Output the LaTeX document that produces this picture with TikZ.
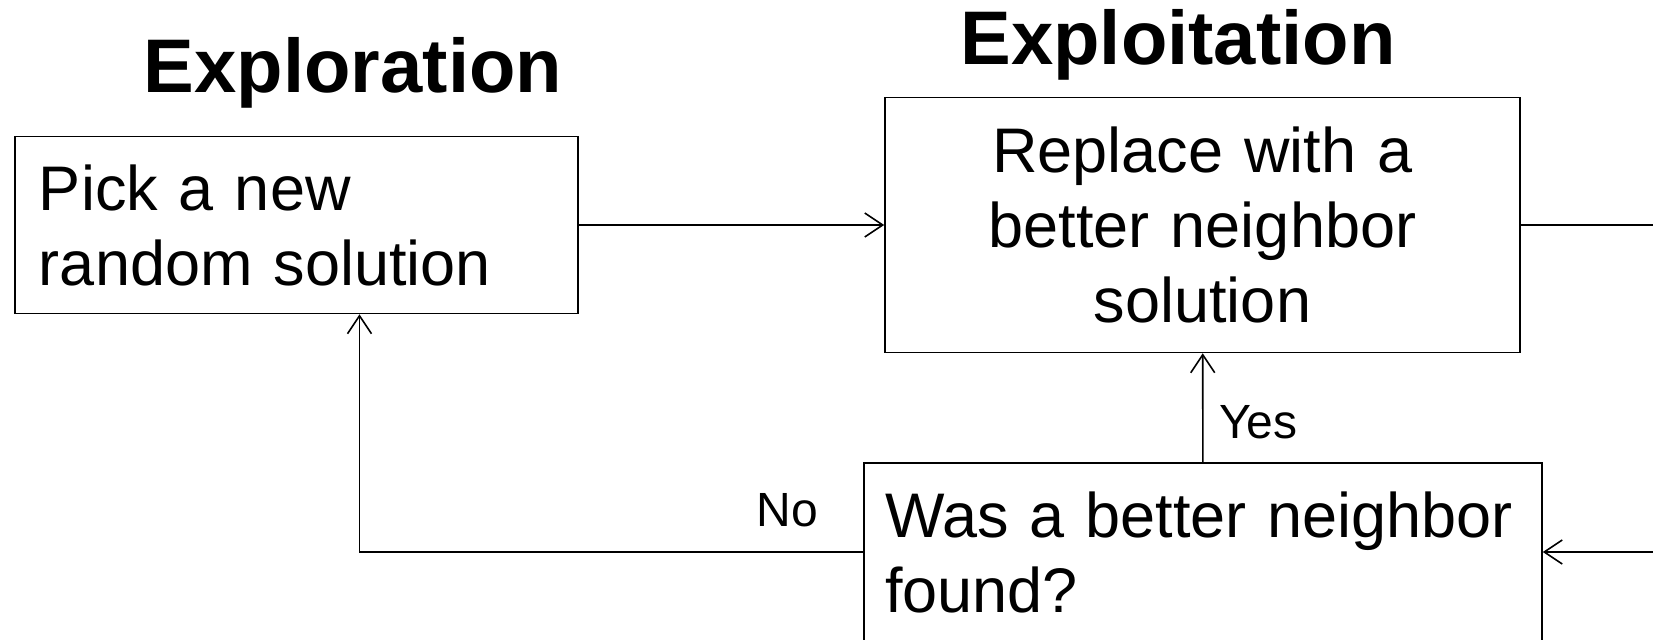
\documentclass[tikz,border=0pt]{standalone}
\usepackage{fontspec}
\setmainfont{Liberation Sans}
\usetikzlibrary{arrows.meta}

\tikzset{
	box/.style={draw,line width=0.8pt,inner sep=0pt,font=\fontsize{31.5}{37.5}\selectfont},
	title/.style={anchor=base,font=\fontsize{38}{44}\selectfont\bfseries},
	lbl/.style={font=\fontsize{24}{28}\selectfont},
	arr/.style={line width=0.8pt,-{Straight Barb[length=9pt,width=12pt,line width=0.8pt]}}
}

\begin{document}
\begin{tikzpicture}[x=0.5pt,y=-0.5pt]
				\useasboundingbox (0,0) rectangle (1653,640);
				\clip (0,0) rectangle (1653,640);
				\node [title] (explore) at (353,93) {Exploration};
				\node [title] (exploit) at (1178,65) {Exploitation};
				\node [box,minimum width=281.5pt,minimum height=88.5pt,text width=257.5pt,align=left] (pick) at (296.5,225) {Pick a new\\random solution};
				\node [box,minimum width=317.5pt,minimum height=127.5pt,text width=300pt,align=center] (replace) at (1202.5,225) {Replace with a\\better neighbor\\solution};
				\node [box,minimum width=339pt,minimum height=89pt,text width=318pt,align=left] (found) at (1203,552) {Was a better neighbor\\found?};
				\coordinate (outR) at (1653,225);
				\coordinate (inR) at (1653,552);
				
				\draw [arr] (pick) -- (replace);
				\draw [line width=0.8pt] (replace) -- (outR);
				\draw [arr] (inR) -- (found);
				\draw [arr] (found) -- node [lbl,pos=0.37,right,xshift=4.5pt] {Yes} (replace);
				\draw [arr] (found.west) -| node [lbl,pos=0.075,above=9pt] {No} ([xshift=31.5pt]pick.south);
		\end{tikzpicture}
\end{document}
